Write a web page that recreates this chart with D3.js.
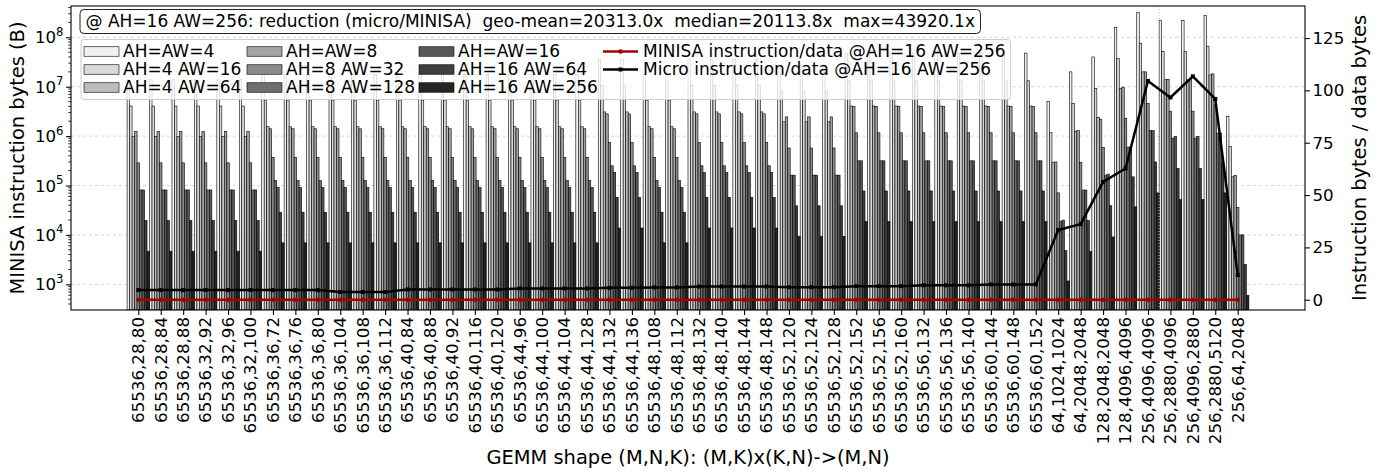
<!DOCTYPE html>
<html>
<head>
<meta charset="utf-8">
<script src="https://cdn.jsdelivr.net/npm/d3@7/dist/d3.min.js"></script>
<style>
html,body{margin:0;padding:0;background:#fff;}
svg text{font-family:"DejaVu Sans",sans-serif;fill:#000;}
</style>
</head>
<body>
<svg id="chart" width="1390" height="472"></svg>
<script>
const shapes = ["65536,28,80","65536,28,84","65536,28,88","65536,32,92","65536,32,96","65536,32,100","65536,36,72","65536,36,76","65536,36,80","65536,36,104","65536,36,108","65536,36,112","65536,40,84","65536,40,88","65536,40,92","65536,40,116","65536,40,120","65536,44,96","65536,44,100","65536,44,104","65536,44,128","65536,44,132","65536,44,136","65536,48,108","65536,48,112","65536,48,132","65536,48,140","65536,48,144","65536,48,148","65536,52,120","65536,52,124","65536,52,128","65536,52,152","65536,52,156","65536,52,160","65536,56,132","65536,56,136","65536,56,140","65536,60,144","65536,60,148","65536,60,152","64,1024,1024","64,2048,2048","128,2048,2048","128,4096,4096","256,4096,4096","256,2880,4096","256,4096,2880","256,2880,5120","256,64,2048"];
const configs = ["AH=AW=4","AH=4 AW=16","AH=4 AW=64","AH=AW=8","AH=8 AW=32","AH=8 AW=128","AH=AW=16","AH=16 AW=64","AH=16 AW=256"];
const greys = ["#f0f0f0","#d9d9d9","#bdbdbd","#a3a3a3","#8a8a8a","#6e6e6e","#585858","#3f3f3f","#252525"];

// MINISA instruction bytes per shape, one array per array configuration
const bytesAH4AW4 = [1.38e7,1.38e7,1.38e7,1.38e7,1.38e7,1.38e7,1.78e7,1.78e7,1.78e7,1.78e7,1.78e7,1.78e7,1.78e7,1.78e7,1.78e7,1.78e7,1.78e7,1.78e7,1.78e7,1.78e7,1.78e7,3.55e7,3.55e7,1.78e7,1.78e7,3.55e7,3.55e7,3.55e7,3.55e7,2.75e7,2.75e7,2.75e7,4.79e7,4.79e7,4.79e7,4.79e7,4.79e7,4.79e7,4.79e7,4.79e7,4.79e7,5.0e6,2.0e7,4.0e7,1.6e8,3.2e8,2.2e8,2.2e8,2.8e8,2.5e6];
const bytesAH4AW16 = [4.07e6,4.07e6,4.07e6,4.07e6,4.07e6,4.07e6,5.37e6,5.37e6,5.37e6,5.37e6,5.37e6,5.37e6,5.37e6,5.37e6,5.37e6,5.37e6,5.37e6,5.37e6,5.37e6,5.37e6,5.37e6,1.07e7,1.07e7,5.37e6,5.37e6,1.07e7,1.07e7,1.07e7,1.07e7,8.13e6,8.13e6,8.13e6,1.32e7,1.32e7,1.32e7,1.32e7,1.32e7,1.32e7,1.32e7,1.32e7,1.32e7,1.17e6,4.6e6,9.3e6,3.7e7,7.6e7,5.2e7,5.2e7,6.6e7,6.2e5];
const bytesAH4AW64 = [9.77e5,9.77e5,9.77e5,9.77e5,9.77e5,9.77e5,1.55e6,1.55e6,1.55e6,1.55e6,1.55e6,1.55e6,1.55e6,1.55e6,1.55e6,1.55e6,1.55e6,1.55e6,1.55e6,1.55e6,1.55e6,3.09e6,3.09e6,1.55e6,1.55e6,3.09e6,3.09e6,3.09e6,3.09e6,1.95e6,1.95e6,1.95e6,4.07e6,4.07e6,4.07e6,4.07e6,4.07e6,4.07e6,4.07e6,4.07e6,4.07e6,2.9e5,1.23e6,2.4e6,9.3e6,2.0e7,1.38e7,1.38e7,1.74e7,1.5e5];
const bytesAH8AW8 = [1.23e6,1.23e6,1.23e6,1.23e6,1.23e6,1.23e6,1.41e6,1.41e6,1.41e6,1.41e6,1.41e6,1.41e6,1.41e6,1.41e6,1.41e6,1.41e6,1.41e6,1.41e6,1.41e6,1.41e6,1.41e6,2.82e6,2.82e6,1.41e6,1.41e6,2.82e6,2.82e6,2.82e6,2.82e6,2.45e6,2.45e6,2.45e6,3.98e6,3.98e6,3.98e6,3.98e6,3.98e6,3.98e6,3.98e6,3.98e6,3.98e6,3.0e5,1.29e6,2.2e6,9.8e6,2.0e7,1.41e7,1.41e7,1.82e7,1.6e5];
const bytesAH8AW32 = [2.88e5,2.88e5,2.88e5,2.88e5,2.88e5,2.88e5,3.72e5,3.72e5,3.72e5,3.72e5,3.72e5,3.72e5,3.72e5,3.72e5,3.72e5,3.72e5,3.72e5,3.72e5,3.72e5,3.72e5,3.72e5,7.41e5,7.41e5,3.72e5,3.72e5,7.41e5,7.41e5,7.41e5,7.41e5,5.75e5,5.75e5,5.75e5,1.17e6,1.17e6,1.17e6,1.17e6,1.17e6,1.17e6,1.17e6,1.17e6,1.17e6,7.1e4,2.95e5,5.9e5,2.3e6,4.6e6,3.2e6,3.2e6,4.3e6,3.6e4];
const bytesAH8AW128 = [8.13e4,8.13e4,8.13e4,8.13e4,8.13e4,8.13e4,1.26e5,1.26e5,1.26e5,1.26e5,1.26e5,1.26e5,1.26e5,1.26e5,1.26e5,1.26e5,1.26e5,1.26e5,1.26e5,1.26e5,1.26e5,2.51e5,2.51e5,1.26e5,1.26e5,2.51e5,2.51e5,2.51e5,2.51e5,1.62e5,1.62e5,1.62e5,3.16e5,3.16e5,3.16e5,3.16e5,3.16e5,3.16e5,3.16e5,3.16e5,3.16e5,1.86e4,8.1e4,1.58e5,6.0e5,1.29e6,9.1e5,9.1e5,1.15e6,1.0e4];
const bytesAH16AW16 = [8.13e4,8.13e4,8.13e4,8.13e4,8.13e4,8.13e4,9.12e4,9.12e4,9.12e4,9.12e4,9.12e4,9.12e4,9.12e4,9.12e4,9.12e4,9.12e4,9.12e4,9.12e4,9.12e4,9.12e4,9.12e4,1.82e5,1.82e5,9.12e4,9.12e4,1.82e5,1.82e5,1.82e5,1.82e5,1.62e5,1.62e5,1.62e5,3.16e5,3.16e5,3.16e5,3.16e5,3.16e5,3.16e5,3.16e5,3.16e5,3.16e5,2.0e4,8.1e4,1.7e5,6.0e5,1.29e6,9.8e5,9.8e5,1.15e6,1.0e4];
const bytesAH16AW64 = [1.95e4,1.95e4,1.95e4,1.95e4,1.95e4,1.95e4,2.88e4,2.88e4,2.88e4,2.88e4,2.88e4,2.88e4,2.88e4,2.88e4,2.88e4,2.88e4,2.88e4,2.88e4,2.88e4,2.88e4,2.88e4,5.75e4,5.75e4,2.88e4,2.88e4,5.75e4,5.75e4,5.75e4,5.75e4,3.89e4,3.89e4,3.89e4,7.76e4,7.76e4,7.76e4,7.76e4,7.76e4,7.76e4,7.76e4,7.76e4,7.76e4,4.8e3,1.95e4,3.9e4,1.5e5,3.0e5,2.2e5,2.2e5,2.8e5,2.5e3];
const bytesAH16AW256 = [4.68e3,4.68e3,4.68e3,4.68e3,4.68e3,4.68e3,6.92e3,6.92e3,6.92e3,6.92e3,6.92e3,6.92e3,6.92e3,6.92e3,6.92e3,6.92e3,6.92e3,6.92e3,6.92e3,6.92e3,6.92e3,1.38e4,1.38e4,6.92e3,6.92e3,1.38e4,1.38e4,1.38e4,1.38e4,9.33e3,9.33e3,9.33e3,1.86e4,1.86e4,1.86e4,1.86e4,1.86e4,1.86e4,1.86e4,1.86e4,1.86e4,1.17e3,4.6e3,9.1e3,3.7e4,7.1e4,5.2e4,5.2e4,7.1e4,600];

// instruction bytes / data bytes at AH=16 AW=256 (right axis)
const microRatio = [4.6,4.6,4.6,4.6,4.6,4.6,4.6,4.6,4.6,3.7,3.7,3.7,4.9,4.9,4.9,4.9,4.9,5.4,5.4,5.4,5.4,5.7,5.7,5.9,5.9,6.3,6.3,6.3,6.3,6.0,6.0,6.0,6.5,6.5,6.5,6.9,6.9,6.9,7.3,7.3,7.3,33.3,36.1,56.3,62.7,104.5,96.6,106.7,95.9,11.8];
const minisaRatio = [0.0003,0.0003,0.0003,0.0003,0.0003,0.0003,0.0003,0.0003,0.0003,0.0003,0.0003,0.0003,0.0003,0.0003,0.0003,0.0003,0.0003,0.0003,0.0003,0.0003,0.0003,0.0003,0.0003,0.0003,0.0003,0.0003,0.0003,0.0003,0.0003,0.0003,0.0003,0.0003,0.0003,0.0003,0.0003,0.0003,0.0003,0.0003,0.0003,0.0003,0.0003,0.002,0.002,0.003,0.003,0.005,0.005,0.005,0.005,0.001];

const leftTicks = [1e3,1e4,1e5,1e6,1e7,1e8];
const rightTicks = [0,25,50,75,100,125];
const summaryText = "@ AH=16 AW=256: reduction (micro/MINISA)  geo-mean=20313.0x  median=20113.8x  max=43920.1x";
const lineLabels = ["MINISA instruction/data @AH=16 AW=256","Micro instruction/data @AH=16 AW=256"];
const xTitle = "GEMM shape (M,N,K): (M,K)x(K,N)->(M,N)";
const yLeftTitle = "MINISA instruction bytes (B)";
const yRightTitle = "Instruction bytes / data bytes";

const series = [bytesAH4AW4,bytesAH4AW16,bytesAH4AW64,bytesAH8AW8,bytesAH8AW32,bytesAH8AW128,bytesAH16AW16,bytesAH16AW64,bytesAH16AW256];

const svg = d3.select("#chart");
svg.append("rect").attr("width",1390).attr("height",472).attr("fill","#fff");
const L=71, R=1305, T=6, B=310;
const FS = 16.67, FL = 17, FT = 19.44, TK = 4.9;
const x = d3.scaleLinear().domain([-3,52]).range([L,R]);
const yL = d3.scaleLog().domain([Math.pow(10,2.48),Math.pow(10,8.634)]).range([B,T]);
const yR = d3.scaleLinear().domain([-4.9,140.3]).range([B,T]);

svg.append("defs").append("clipPath").attr("id","clip")
  .append("rect").attr("x",L).attr("y",T).attr("width",R-L).attr("height",B-T);

// grid
svg.append("g").selectAll("line").data(leftTicks).join("line")
  .attr("x1",L).attr("x2",R).attr("y1",d=>yL(d)).attr("y2",d=>yL(d))
  .attr("stroke","#cccccc").attr("stroke-width",0.8).attr("stroke-dasharray","3,3");

// bars
const bw = 1/9;
const gBars = svg.append("g").attr("clip-path","url(#clip)");
series.forEach((arr,j)=>{
  gBars.append("g").selectAll("rect").data(arr).join("rect")
    .attr("x",(d,i)=>x(i+(j-4.5)*bw))
    .attr("width",x(bw)-x(0))
    .attr("y",d=>yL(d))
    .attr("height",d=>B-yL(d))
    .attr("fill",greys[j]).attr("stroke","#000").attr("stroke-width",0.6);
});

// vertical dotted reference
svg.append("line").attr("x1",x(45.5)).attr("x2",x(45.5)).attr("y1",T).attr("y2",B)
  .attr("stroke","#bbbbbb").attr("stroke-width",1).attr("stroke-dasharray","1,2");

// lines
const lineGen = d3.line().x((d,i)=>x(i)).y(d=>yR(d));
const gLines = svg.append("g").attr("clip-path","url(#clip)");
gLines.append("path").datum(minisaRatio).attr("d",lineGen).attr("fill","none")
  .attr("stroke","#a50000").attr("stroke-width",2.5);
gLines.append("g").selectAll("circle").data(minisaRatio).join("circle")
  .attr("cx",(d,i)=>x(i)).attr("cy",d=>yR(d)).attr("r",2.3).attr("fill","#a50000");
gLines.append("path").datum(microRatio).attr("d",lineGen).attr("fill","none")
  .attr("stroke","#000").attr("stroke-width",2.5).attr("stroke-linejoin","round");
gLines.append("g").selectAll("rect").data(microRatio).join("rect")
  .attr("x",(d,i)=>x(i)-2).attr("y",d=>yR(d)-2).attr("width",4).attr("height",4).attr("fill","#000");

// spines
svg.append("rect").attr("x",L).attr("y",T).attr("width",R-L).attr("height",B-T)
  .attr("fill","none").attr("stroke","#000").attr("stroke-width",1.1);

// x axis
const gx = svg.append("g").attr("transform",`translate(0,${B})`)
  .call(d3.axisBottom(x).tickValues(d3.range(shapes.length)).tickSize(TK).tickSizeOuter(0).tickFormat(""));
gx.select(".domain").remove();
gx.selectAll("line").attr("stroke","#000").attr("stroke-width",1.1);
svg.append("g").selectAll("text").data(shapes).join("text")
  .attr("transform",(d,i)=>`translate(${x(i)},${B+7}) rotate(-90)`)
  .attr("text-anchor","end").attr("dy","0.35em").attr("font-size",FS).text(d=>d);

// left axis
const gyl = svg.append("g").attr("transform",`translate(${L},0)`)
  .call(d3.axisLeft(yL).tickValues(leftTicks).tickSize(TK).tickFormat(""));
gyl.select(".domain").remove();
gyl.selectAll("line").attr("stroke-width",1.1);
const minorL = [];
for (let e=2;e<=8;e++) for (let m=2;m<=9;m++){ const v=m*Math.pow(10,e); if (v>yL.domain()[0] && v<yL.domain()[1]) minorL.push(v); }
svg.append("g").selectAll("line").data(minorL).join("line")
  .attr("x1",L-2.8).attr("x2",L).attr("y1",d=>yL(d)).attr("y2",d=>yL(d)).attr("stroke","#000").attr("stroke-width",0.8);
const tl = svg.append("g").selectAll("text").data(leftTicks).join("text")
  .attr("x",L-7.5).attr("y",d=>yL(d)+6).attr("text-anchor","end").attr("font-size",FS);
tl.append("tspan").text("10");
tl.append("tspan").attr("dy",-7.5).attr("font-size",FS*0.7).text(d=>Math.round(Math.log10(d)));

// right axis
const gyr = svg.append("g").attr("transform",`translate(${R},0)`)
  .call(d3.axisRight(yR).tickValues(rightTicks).tickSize(TK).tickFormat(""));
gyr.select(".domain").remove();
gyr.selectAll("line").attr("stroke-width",1.1);
svg.append("g").selectAll("text").data(rightTicks).join("text")
  .attr("x",R+7.5).attr("y",d=>yR(d)).attr("dy","0.35em").attr("font-size",FS).text(d=>d);

// axis titles
svg.append("text").attr("transform",`translate(${(L+R)/2},464)`).attr("text-anchor","middle").attr("font-size",FT).text(xTitle);
svg.append("text").attr("transform",`translate(24,${(T+B)/2}) rotate(-90)`).attr("text-anchor","middle").attr("font-size",FT).text(yLeftTitle);
svg.append("text").attr("transform",`translate(1366,${(T+B)/2}) rotate(-90)`).attr("text-anchor","middle").attr("font-size",FT).text(yRightTitle);

// legend with bars and lines
const lg = svg.append("g");
const lgBox = lg.append("rect").attr("x",81).attr("y",39.5).attr("height",60).attr("rx",3)
  .attr("fill","#fff").attr("fill-opacity",0.8).attr("stroke","#cccccc").attr("stroke-width",1);
const rowsY = [51.5,69.5,87.5];
const colX = [84,247,419,603];
const patchW = 35, patchH = 9.5, pad = 4;
for (let c=0;c<3;c++){
  for (let r=0;r<3;r++){
    const k = c*3+r;
    lg.append("rect").attr("x",colX[c]).attr("y",rowsY[r]-patchH/2).attr("width",patchW).attr("height",patchH)
      .attr("fill",greys[k]).attr("stroke","#000").attr("stroke-width",0.6);
    lg.append("text").attr("x",colX[c]+patchW+pad).attr("y",rowsY[r]).attr("dy","0.35em").attr("font-size",FL).text(configs[k]);
  }
}
let maxW4 = 0;
const lineColors = ["#a50000","#000"];
lineLabels.forEach((lab,r)=>{
  lg.append("line").attr("x1",colX[3]).attr("x2",colX[3]+patchW).attr("y1",rowsY[r]).attr("y2",rowsY[r])
    .attr("stroke",lineColors[r]).attr("stroke-width",2.5);
  if (r===0) lg.append("circle").attr("cx",colX[3]+patchW/2).attr("cy",rowsY[r]).attr("r",2.3).attr("fill",lineColors[r]);
  else lg.append("rect").attr("x",colX[3]+patchW/2-2).attr("y",rowsY[r]-2).attr("width",4).attr("height",4).attr("fill",lineColors[r]);
  const t = lg.append("text").attr("x",colX[3]+patchW+pad+1).attr("y",rowsY[r]).attr("dy","0.35em").attr("font-size",FL).text(lab);
  maxW4 = Math.max(maxW4, t.node().getComputedTextLength());
});
lgBox.attr("width", colX[3]+patchW+pad+1+maxW4+5-81);

// summary box
const sg = svg.append("g");
const sBox = sg.append("rect").attr("x",80).attr("y",9.5).attr("height",24).attr("rx",4)
  .attr("fill","#fff").attr("stroke","#222").attr("stroke-width",1);
const st = sg.append("text").attr("x",85.5).attr("y",21.5).attr("dy","0.35em").attr("font-size",FL)
  .style("white-space","pre").text(summaryText);
sBox.attr("width", st.node().getComputedTextLength()+11);
</script>
</body>
</html>
